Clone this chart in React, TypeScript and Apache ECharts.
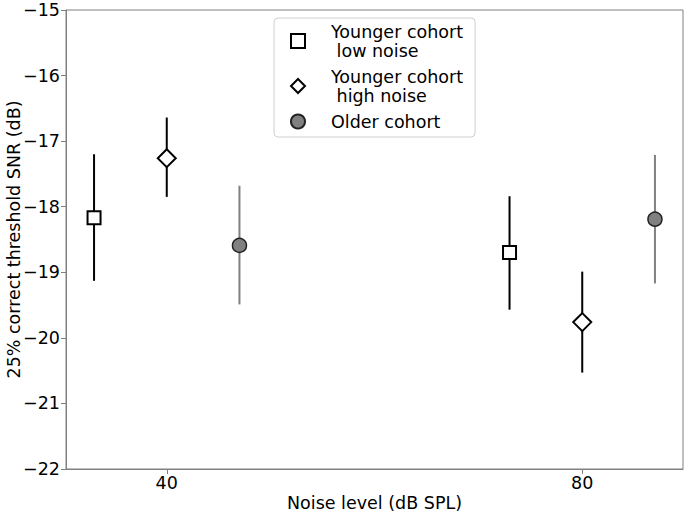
import React, { useEffect, useRef } from "react";
import * as echarts from "echarts";

const tickValuesX = [40, 80];
const youngLowX = [33, 73];
const youngLowMean = [-18.17, -18.7];
const youngLowLo = [-19.13, -19.57];
const youngLowHi = [-17.2, -17.84];

const youngHighX = [40, 80];
const youngHighMean = [-17.26, -19.76];
const youngHighLo = [-17.85, -20.53];
const youngHighHi = [-16.64, -18.99];

const olderX = [47, 87];
const olderMean = [-18.59, -18.19];
const olderLo = [-19.49, -19.17];
const olderHi = [-17.68, -17.21];

const FONT = "DejaVu Sans";
const GRAY = "#808080";
const FS = 17.5;

function errSeries(xs: number[], lo: number[], hi: number[], color: string) {
  return {
    type: "custom",
    z: 1,
    silent: true,
    data: xs.map((x, i) => [x, lo[i], hi[i]]),
    renderItem: (params: any, api: any) => {
      const p1 = api.coord([api.value(0), api.value(1)]);
      const p2 = api.coord([api.value(0), api.value(2)]);
      return {
        type: "line",
        shape: { x1: p1[0], y1: p1[1], x2: p2[0], y2: p2[1] },
        style: { stroke: color, lineWidth: 2 },
      };
    },
  };
}

function fmtMinus(v: number) {
  return (v < 0 ? "\u2212" : "") + Math.abs(v);
}

export default function App() {
  const ref = useRef<HTMLDivElement>(null);
  useEffect(() => {
    if (!ref.current) return;
    const chart = echarts.init(ref.current, null, { renderer: "svg" });
    chart.setOption({
      animation: false,
      textStyle: { fontFamily: FONT },
      grid: {
        left: 66,
        right: 5,
        top: 10,
        bottom: 46,
        show: true,
        borderColor: GRAY,
        borderWidth: 1,
        containLabel: false,
        outerBoundsMode: "none",
      },
      legend: {
        orient: "vertical",
        left: 274,
        top: 18,
        itemWidth: 14,
        itemHeight: 14,
        itemGap: 7,
        padding: [4, 12, 6, 16],
        backgroundColor: "#fff",
        borderColor: "#d0d0d0",
        borderWidth: 1,
        borderRadius: 4,
        textStyle: {
          fontFamily: FONT,
          fontSize: FS,
          lineHeight: 19,
          color: "#000",
          padding: [0, 0, 0, 21],
        },
        data: [
          "Younger cohort\n low noise",
          "Younger cohort\n high noise",
          "Older cohort",
        ],
      },
      xAxis: {
        type: "value",
        min: 30.3,
        max: 89.7,
        name: "Noise level (dB SPL)",
        nameLocation: "middle",
        nameGap: 25,
        nameMoveOverlap: false,
        nameTextStyle: { fontFamily: FONT, fontSize: FS, color: "#000" },
        axisLine: { show: true, lineStyle: { color: GRAY, width: 1 } },
        axisTick: {
          show: true,
          length: 5,
          customValues: tickValuesX,
          lineStyle: { color: GRAY },
        },
        axisLabel: {
          customValues: tickValuesX,
          margin: 5,
          fontFamily: FONT,
          fontSize: FS,
          color: "#000",
        },
        splitLine: { show: false },
      },
      yAxis: {
        type: "value",
        min: -22,
        max: -15,
        interval: 1,
        name: "25% correct threshold SNR (dB)",
        nameLocation: "middle",
        nameGap: 43,
        nameMoveOverlap: false,
        nameTextStyle: { fontFamily: FONT, fontSize: FS, color: "#000" },
        axisLine: { show: true, lineStyle: { color: GRAY, width: 1 } },
        axisTick: { show: true, length: 5, lineStyle: { color: GRAY } },
        axisLabel: {
          margin: 6,
          fontFamily: FONT,
          fontSize: FS,
          color: "#000",
          formatter: fmtMinus,
        },
        splitLine: { show: false },
      },
      series: [
        errSeries(youngLowX, youngLowLo, youngLowHi, "#000"),
        errSeries(youngHighX, youngHighLo, youngHighHi, "#000"),
        errSeries(olderX, olderLo, olderHi, GRAY),
        {
          name: "Younger cohort\n low noise",
          type: "scatter",
          z: 3,
          symbol: "rect",
          symbolSize: 13,
          itemStyle: { color: "#fff", borderColor: "#000", borderWidth: 2, opacity: 1 },
          data: youngLowX.map((x, i) => [x, youngLowMean[i]]),
        },
        {
          name: "Younger cohort\n high noise",
          type: "scatter",
          z: 3,
          symbol: "diamond",
          symbolSize: 18,
          itemStyle: { color: "#fff", borderColor: "#000", borderWidth: 2, opacity: 1 },
          data: youngHighX.map((x, i) => [x, youngHighMean[i]]),
        },
        {
          name: "Older cohort",
          type: "scatter",
          z: 3,
          symbol: "circle",
          symbolSize: 14,
          itemStyle: { color: GRAY, borderColor: "#222", borderWidth: 1.5, opacity: 1 },
          data: olderX.map((x, i) => [x, olderMean[i]]),
        },
      ],
    });
    return () => chart.dispose();
  }, []);
  return <div ref={ref} style={{ width: 688, height: 515, position: "absolute", left: 0, top: 0 }} />;
}
